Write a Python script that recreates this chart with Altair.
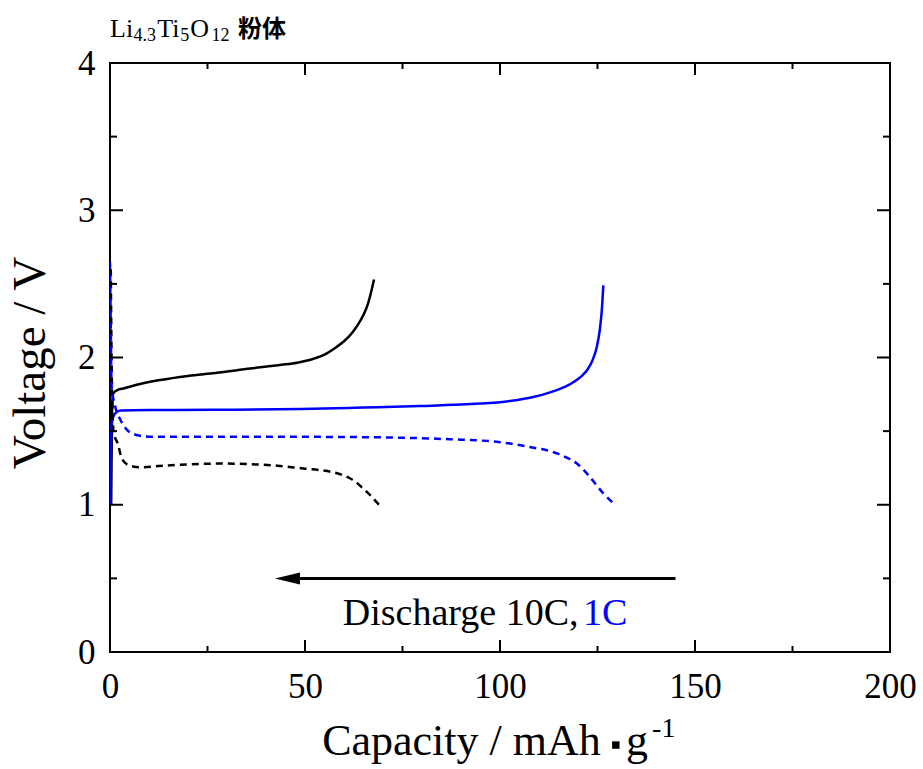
import altair as alt
import pandas as pd

X_DOM = [0, 200]
Y_DOM = [0, 4]
W, H = 780, 589
SERIF = "Liberation Serif"
BLUE = "#0000ff"

# 10C charge (solid black)
cap_10c_charge = [0.3, 0.4, 0.5, 0.6, 0.85, 2.0, 3.4, 7.7, 12.8, 20, 27, 36, 44, 48,
                  52, 55, 58, 60, 62, 63.5, 65, 66.2, 67, 67.7]
volt_10c_charge = [1.0, 1.3, 1.55, 1.7, 1.757, 1.78, 1.79, 1.82, 1.847, 1.875, 1.895,
                   1.925, 1.95, 1.965, 1.99, 2.02, 2.07, 2.11, 2.165, 2.22, 2.29, 2.37,
                   2.45, 2.53]

# 1C charge (solid blue)
cap_1c_charge = [0.0, 0.2, 0.4, 1.3, 2.6, 6, 12.8, 26, 49, 65, 79.5, 90, 95, 100, 104,
                 108, 111, 114, 117, 119, 121, 122.5, 123.7, 124.8, 125.6, 126.1, 126.5]
volt_1c_charge = [1.0, 1.3, 1.55, 1.62, 1.64, 1.642, 1.643, 1.645, 1.65, 1.66, 1.67,
                  1.68, 1.687, 1.696, 1.71, 1.728, 1.748, 1.773, 1.805, 1.835, 1.875,
                  1.92, 1.98, 2.07, 2.19, 2.32, 2.49]

# 10C discharge (dashed black)
cap_10c_discharge = [0.2, 0.4, 0.7, 0.9, 2.1, 3.0, 4.7, 7.7, 12.4, 23, 30, 36, 43, 50,
                     54, 57, 59.5, 61.5, 63, 64.5, 66.7, 69.3]
volt_10c_discharge = [2.6, 2.0, 1.6, 1.50, 1.406, 1.315, 1.27, 1.254, 1.263, 1.277, 1.28,
                      1.275, 1.265, 1.245, 1.235, 1.222, 1.203, 1.18, 1.155, 1.12, 1.066,
                      0.99]

# 1C discharge (dashed blue)
cap_1c_discharge = [0.0, 0.2, 0.4, 1.3, 2.6, 4.3, 6.8, 10.3, 20, 40, 60, 75, 87, 100,
                    104, 108, 112, 115, 117.5, 119.7, 121.5, 123, 126.4, 129.5]
volt_1c_discharge = [2.65, 2.2, 1.81, 1.67, 1.58, 1.51, 1.474, 1.462, 1.462, 1.462, 1.46,
                     1.455, 1.445, 1.425, 1.41, 1.39, 1.37, 1.345, 1.315, 1.28, 1.235,
                     1.19, 1.08, 1.0]

x_major = [0, 50, 100, 150, 200]
x_minor = [25, 75, 125, 175]
y_major = [0, 1, 2, 3, 4]
y_minor = [0.5, 1.5, 2.5, 3.5]

# discharge-direction arrow (capacity from/to, voltage level)
arrow_cap = [145, 48.7]
arrow_head_cap = [45.5]
arrow_volt = 0.5

xs = alt.Scale(domain=X_DOM, nice=False, zero=False)
ys = alt.Scale(domain=Y_DOM, nice=False, zero=False)

x_axis = alt.Axis(values=x_major, domain=False, ticks=False, tickSize=0, grid=False,
                  labelFont=SERIF, labelFontSize=35, labelColor="black",
                  labelBaseline="alphabetic", labelPadding=45, title=None,
                  labelFlush=False)
y_axis = alt.Axis(values=y_major, domain=False, ticks=False, tickSize=0, grid=False,
                  labelFont=SERIF, labelFontSize=35, labelColor="black",
                  labelPadding=15, title=None, labelFlush=False)


def X(field="cap"):
    return alt.X(f"{field}:Q", scale=xs, axis=x_axis)


def Y(field="volt"):
    return alt.Y(f"{field}:Q", scale=ys, axis=y_axis)


def curve(cap, volt, color, dashed):
    df = pd.DataFrame({"cap": cap, "volt": volt, "i": list(range(len(cap)))})
    kw = dict(color=color, strokeWidth=2.5, clip=True, interpolate="monotone")
    if dashed:
        kw["strokeDash"] = [7, 5]
    return alt.Chart(df).mark_line(**kw).encode(x=X(), y=Y(), order="i:Q")


curves = [
    curve(cap_10c_charge, volt_10c_charge, "black", False),
    curve(cap_1c_charge, volt_1c_charge, BLUE, False),
    curve(cap_10c_discharge, volt_10c_discharge, "black", True),
    curve(cap_1c_discharge, volt_1c_discharge, BLUE, True),
]


# inward-pointing ticks on all four sides
def xticks(vals, length):
    df = pd.DataFrame({"cap": vals})
    base = alt.Chart(df).mark_rule(color="black", strokeWidth=2)
    return [
        base.encode(x=X(), y=alt.value(H), y2=alt.value(H - length)),
        base.encode(x=X(), y=alt.value(0), y2=alt.value(length)),
    ]


def yticks(vals, length):
    df = pd.DataFrame({"volt": vals})
    base = alt.Chart(df).mark_rule(color="black", strokeWidth=2)
    return [
        base.encode(y=Y(), x=alt.value(0), x2=alt.value(length)),
        base.encode(y=Y(), x=alt.value(W), x2=alt.value(W - length)),
    ]


ticks = xticks(x_major, 12) + xticks(x_minor, 6) + yticks(y_major, 13) + yticks(y_minor, 7)

arrow_df = pd.DataFrame({"cap": [arrow_cap[0]], "cap2": [arrow_cap[1]], "volt": [arrow_volt]})
arrow_line = alt.Chart(arrow_df).mark_rule(color="black", strokeWidth=3).encode(
    x=X(), x2="cap2:Q", y=Y())
head_df = pd.DataFrame({"cap": arrow_head_cap, "volt": [arrow_volt]})
arrow_head = alt.Chart(head_df).mark_point(
    shape="M -1 0 L 1 -0.48 L 1 0.48 Z", size=625, filled=True, fill="black",
    opacity=1).encode(x=X(), y=Y())


def label(texts, caps, volts, size, color="black", font=SERIF, weight="normal",
          align="left", angle=0):
    df = pd.DataFrame({"t": texts, "cap": caps, "volt": volts})
    return alt.Chart(df).mark_text(
        font=font, fontSize=size, color=color, fontWeight=weight, align=align,
        baseline="alphabetic", angle=angle).encode(x=X(), y=Y(), text="t:N")


annotations = [
    label(["Discharge 10C,"], [59.7], [0.183], 38),
    label(["1C"], [121.3], [0.183], 38, color=BLUE),
    # formula heading
    label(["Li", "Ti", "O"], [0.0, 12.1, 20.6], [4.179] * 3, 26),
    label(["4.3", "5", "12"], [6.0, 18.0, 26.0], [4.152] * 3, 18),
    label(["粉体"], [32.8], [4.179], 24, font="Noto Sans CJK JP", weight="bold"),
    # axis titles
    label(["Capacity / mAh"], [54.4], [-0.70], 44),
    label(["g"], [132.3], [-0.70], 44),
    label(["-1"], [139.0], [-0.58], 28),
    label(["Voltage / V"], [-16.7], [1.963], 47, align="center", angle=270),
]
dot_df = pd.DataFrame({"cap": [129.7], "volt": [-0.632]})
dot = alt.Chart(dot_df).mark_square(size=56, color="black", opacity=1).encode(x=X(), y=Y())

chart = alt.layer(*curves, *ticks, arrow_line, arrow_head, *annotations, dot).properties(
    width=W, height=H,
    padding={"left": 110, "top": 63, "right": 33, "bottom": 117},
    autosize=alt.AutoSizeParams(type="none"),
    background="white",
).configure_view(stroke="black", strokeWidth=2)

chart.save("out.html", embed_options={"renderer": "svg", "actions": False})
